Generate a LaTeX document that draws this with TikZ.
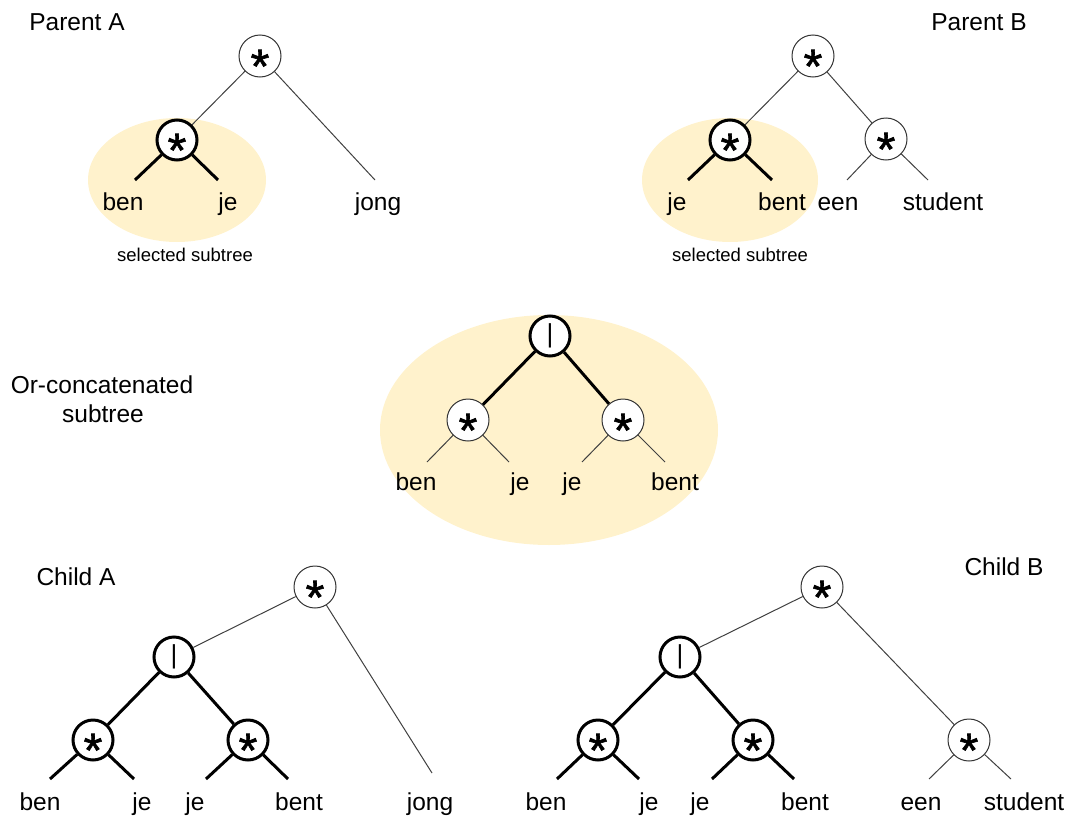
\documentclass[tikz,border=0pt]{standalone}
\usepackage{fontspec}
\setmainfont{Liberation Sans}
\newfontfamily\starfont[FakeBold=1.3]{Liberation Sans}
\definecolor{subtreefill}{HTML}{FFF2CC}
\tikzset{
  op/.style={circle, draw=black!80, line width=1pt, fill=white, minimum size=42pt, inner sep=0pt},
  opbold/.style={op, draw=black, line width=3pt, minimum size=40pt},
  thinedge/.style={draw=black!75, line width=1pt},
  boldedge/.style={draw=black, line width=3pt},
  word/.style={anchor=base, font=\fontsize{24.5}{29}\selectfont, inner sep=0pt},
  note/.style={anchor=base, font=\fontsize{18.5}{22}\selectfont, inner sep=0pt},
  starsym/.style={anchor=base, font=\starfont\fontsize{48}{48}\selectfont, inner sep=0pt, yshift=-26.8pt},
  barsym/.style={anchor=base, font=\fontsize{26}{26}\selectfont, inner sep=0pt, yshift=-6.8pt},
  subtree/.style={fill=subtreefill, draw=none}
}
% operator nodes: a circle and its symbol
\newcommand\starop[3]{\node[#3] (#1) at (#2) {};\node[starsym] (#1-s) at (#1.center) {*};}
\newcommand\barop[3]{\node[#3] (#1) at (#2) {};\node[barsym] (#1-s) at (#1.center) {|};}
\begin{document}
\begin{tikzpicture}[x=1pt, y=-1pt]
\useasboundingbox (0,0) rectangle (1077,822);

% highlighted subtrees
\fill[subtree] (177,180) ellipse [x radius=89, y radius=62];
\fill[subtree] (730,180) ellipse [x radius=88, y radius=62];
\fill[subtree] (549,430) ellipse [x radius=169, y radius=115];

% ---------------- Parent A ----------------
\node[word] (pA) at (77,30) {Parent A};
\starop{aR}{260,56}{op}
\starop{aS}{177,140}{opbold}
\coordinate (a1) at (135,180);
\coordinate (a2) at (218,180);
\coordinate (a3) at (375,180);
\draw[thinedge] (aR) -- (aS);
\draw[thinedge] (aR) -- (a3);
\draw[boldedge] (aS) -- (a1);
\draw[boldedge] (aS) -- (a2);
\node[word] (aBen) at (123,210) {ben};
\node[word] (aJe) at (228,210) {je};
\node[word] (aJong) at (378,210) {jong};
\node[note] (aSel) at (185,261) {selected subtree};

% ---------------- Parent B ----------------
\node[word] (pB) at (979,30) {Parent B};
\starop{bR}{813,56}{op}
\starop{bS}{730,140}{opbold}
\starop{bT}{886,139}{op}
\coordinate (b1) at (688,180);
\coordinate (b2) at (772,180);
\coordinate (b3) at (847,180);
\coordinate (b4) at (928,180);
\draw[thinedge] (bR) -- (bS);
\draw[thinedge] (bR) -- (bT);
\draw[boldedge] (bS) -- (b1);
\draw[boldedge] (bS) -- (b2);
\draw[thinedge] (bT) -- (b3);
\draw[thinedge] (bT) -- (b4);
\node[word] (bJe) at (677,210) {je};
\node[word] (bBent) at (782,210) {bent};
\node[word] (bEen) at (838,210) {een};
\node[word] (bStudent) at (943,210) {student};
\node[note] (bSel) at (740,261) {selected subtree};

% ---------------- Or-concatenated subtree ----------------
\node[word] (mT1) at (102,393) {Or-concatenated};
\node[word] (mT2) at (103,422) {subtree};
\barop{mR}{550,336}{opbold}
\starop{mL1}{468,420}{op}
\starop{mL2}{623,420}{op}
\coordinate (m1) at (427,462);
\coordinate (m2) at (509,462);
\coordinate (m3) at (582,462);
\coordinate (m4) at (665,462);
\draw[boldedge] (mR) -- (mL1);
\draw[boldedge] (mR) -- (mL2);
\draw[thinedge] (mL1) -- (m1);
\draw[thinedge] (mL1) -- (m2);
\draw[thinedge] (mL2) -- (m3);
\draw[thinedge] (mL2) -- (m4);
\node[word] (mBen) at (416,490) {ben};
\node[word] (mJe1) at (520,490) {je};
\node[word] (mJe2) at (572,490) {je};
\node[word] (mBent) at (675,490) {bent};

% ---------------- Child A ----------------
\node[word] (cA) at (76,585) {Child A};
\starop{cR}{315,587}{op}
\barop{cO}{174,657}{opbold}
\starop{cL}{93,740}{opbold}
\starop{cM}{248,740}{opbold}
\coordinate (c1) at (50,779);
\coordinate (c2) at (134,779);
\coordinate (c3) at (206,779);
\coordinate (c4) at (288,779);
\coordinate (c5) at (432,773);
\draw[thinedge] (cR) -- (cO);
\draw[thinedge] (cR) -- (c5);
\draw[boldedge] (cO) -- (cL);
\draw[boldedge] (cO) -- (cM);
\draw[boldedge] (cL) -- (c1);
\draw[boldedge] (cL) -- (c2);
\draw[boldedge] (cM) -- (c3);
\draw[boldedge] (cM) -- (c4);
\node[word] (cBen) at (40,810) {ben};
\node[word] (cJe1) at (142,810) {je};
\node[word] (cJe2) at (195,810) {je};
\node[word] (cBent) at (299,810) {bent};
\node[word] (cJong) at (430,810) {jong};

% ---------------- Child B ----------------
\node[word] (dB) at (1004,575) {Child B};
\starop{dR}{822,587}{op}
\barop{dO}{680,657}{opbold}
\starop{dL}{598,740}{opbold}
\starop{dM}{753,740}{opbold}
\starop{dE}{969,740}{op}
\coordinate (d1) at (557,779);
\coordinate (d2) at (639,779);
\coordinate (d3) at (712,779);
\coordinate (d4) at (794,779);
\coordinate (d5) at (929,779);
\coordinate (d6) at (1011,779);
\draw[thinedge] (dR) -- (dO);
\draw[thinedge] (dR) -- (dE);
\draw[boldedge] (dO) -- (dL);
\draw[boldedge] (dO) -- (dM);
\draw[boldedge] (dL) -- (d1);
\draw[boldedge] (dL) -- (d2);
\draw[boldedge] (dM) -- (d3);
\draw[boldedge] (dM) -- (d4);
\draw[thinedge] (dE) -- (d5);
\draw[thinedge] (dE) -- (d6);
\node[word] (dBen) at (546,810) {ben};
\node[word] (dJe1) at (649,810) {je};
\node[word] (dJe2) at (700,810) {je};
\node[word] (dBent) at (805,810) {bent};
\node[word] (dEen) at (921,810) {een};
\node[word] (dStudent) at (1024,810) {student};
\end{tikzpicture}
\end{document}
